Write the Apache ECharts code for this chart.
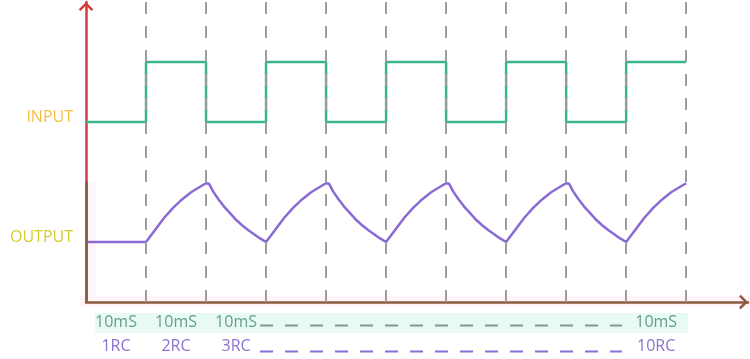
<!DOCTYPE html>
<html>
<head>
<meta charset="utf-8">
<script src="https://cdn.jsdelivr.net/npm/echarts@6/dist/echarts.min.js"></script>
<style>html,body{margin:0;padding:0;background:#fff;}#c{width:750px;height:359px;}</style>
</head>
<body>
<div id="c"></div>
<script>
// ---- data ----
const inputPoints = [[0,3],[1,3],[1,4],[2,4],[2,3],[3,3],[3,4],[4,4],[4,3],[5,3],[5,4],[6,4],[6,3],[7,3],[7,4],[8,4],[8,3],[9,3],[9,4],[10,4]];
const outputPoints = [
  [0,1],[1,1],
  [1.15,1.2],[1.3,1.4],[1.45,1.57],[1.6,1.71],[1.75,1.83],[1.9,1.92],[2,1.98],
  [2.05,1.97],[2.12,1.84],[2.2,1.72],[2.3,1.59],[2.4,1.48],[2.5,1.37],[2.6,1.28],[2.7,1.2],[2.8,1.13],[2.9,1.06],[3,1],
  [3.15,1.2],[3.3,1.4],[3.45,1.57],[3.6,1.71],[3.75,1.83],[3.9,1.92],[4,1.98],
  [4.05,1.97],[4.12,1.84],[4.2,1.72],[4.3,1.59],[4.4,1.48],[4.5,1.37],[4.6,1.28],[4.7,1.2],[4.8,1.13],[4.9,1.06],[5,1],
  [5.15,1.2],[5.3,1.4],[5.45,1.57],[5.6,1.71],[5.75,1.83],[5.9,1.92],[6,1.98],
  [6.05,1.97],[6.12,1.84],[6.2,1.72],[6.3,1.59],[6.4,1.48],[6.5,1.37],[6.6,1.28],[6.7,1.2],[6.8,1.13],[6.9,1.06],[7,1],
  [7.15,1.2],[7.3,1.4],[7.45,1.57],[7.6,1.71],[7.75,1.83],[7.9,1.92],[8,1.98],
  [8.05,1.97],[8.12,1.84],[8.2,1.72],[8.3,1.59],[8.4,1.48],[8.5,1.37],[8.6,1.28],[8.7,1.2],[8.8,1.13],[8.9,1.06],[9,1],
  [9.15,1.2],[9.3,1.4],[9.45,1.57],[9.6,1.71],[9.75,1.83],[9.9,1.92],[10,1.98]
];
const gridLinePositions = [1,2,3,4,5,6,7,8,9,10];
const labelPositions = [0.5,1.5,2.5,9.5];
const timeLabels = ['10mS','10mS','10mS','10mS'];
const rcLabels = ['1RC','2RC','3RC','10RC'];
const yLabelValues = [1,3];
const yLabelTexts = ['OUTPUT','INPUT'];
const ellipsisRange = [2.9, 8.93];

const FONT = 'Open Sans';
const chev = 'path://M7,0 L14,7 L12.3,8.7 L7,3.4 L1.7,8.7 L0,7 Z';

const chart = echarts.init(document.getElementById('c'), null, {renderer:'canvas'});
chart.setOption({
  animation:false,
  backgroundColor:'#ffffff',
  grid:{left:86, top:2, width:662, height:300, containLabel:false},
  xAxis:{
    type:'value', min:0, max:11.03,
    axisLine:{show:true, lineStyle:{color:'#8c5a3c', width:2.5}, symbol:['none', chev], symbolSize:[15,9], symbolOffset:[0,-4.5]},
    axisTick:{show:true, inside:true, length:6, customValues:gridLinePositions, lineStyle:{color:'#8c5a3c', width:1.5}},
    splitLine:{show:false},
    axisLabel:{
      show:true, customValues:labelPositions, margin:8,
      formatter:function(v){ const i = labelPositions.indexOf(v); return i<0 ? '' : '{a|'+timeLabels[i]+'}\n{b|'+rcLabels[i]+'}'; },
      rich:{
        a:{color:'#62a08c', fontSize:16, lineHeight:24, fontFamily:FONT},
        b:{color:'#8c72d3', fontSize:16, lineHeight:24, fontFamily:FONT}
      }
    }
  },
  yAxis:{
    type:'value', min:0, max:5,
    axisLine:{show:true, lineStyle:{color:'#d6393b', width:2.5}, symbol:['none', chev], symbolSize:[15,9], symbolOffset:[0,-4.5]},
    axisTick:{show:false},
    splitLine:{show:false},
    axisLabel:{
      show:true, customValues:yLabelValues, margin:13, padding:[0,0,10,0], fontFamily:FONT, fontSize:16,
      formatter:function(v){ const i = yLabelValues.indexOf(v); return i<0 ? '' : (i===0 ? '{o|' : '{i|') + yLabelTexts[i] + '}'; },
      rich:{
        o:{color:'#d4cd2c', fontSize:16, fontFamily:FONT},
        i:{color:'#f5bf3e', fontSize:16, fontFamily:FONT}
      }
    }
  },
  series:[
    {
      type:'line', data:[], z:1, silent:true,
      markLine:{
        silent:true, symbol:['none','none'], label:{show:false},
        lineStyle:{color:'#9d9d9d', width:2, type:[12,12]},
        data: gridLinePositions.map(v => ({xAxis:v}))
      }
    },
    {
      type:'line', data:[], z:5, silent:true,
      markLine:{
        silent:true, symbol:['none','none'], label:{show:false},
        lineStyle:{color:'#8c5a3c', width:2.5, type:'solid'},
        data:[[{coord:[0,0]},{coord:[0,2]}]]
      }
    },
    {
      name:'INPUT', type:'line', data:inputPoints, showSymbol:false, z:3,
      lineStyle:{color:'#3bb58b', width:2.5}, itemStyle:{color:'#3bb58b'}
    },
    {
      name:'OUTPUT', type:'line', data:outputPoints, showSymbol:false, z:3,
      lineStyle:{color:'#8a6bd5', width:2.5}, itemStyle:{color:'#8a6bd5'}
    }
  ]
});

// decorations positioned through the chart's own scales
const p0 = chart.convertToPixel({gridIndex:0}, [0,0]);
const pa = chart.convertToPixel({gridIndex:0}, [0.15,0]);
const pb = chart.convertToPixel({gridIndex:0}, [10.03,0]);
const pe1 = chart.convertToPixel({gridIndex:0}, [ellipsisRange[0],0]);
const pe2 = chart.convertToPixel({gridIndex:0}, [ellipsisRange[1],0]);
const p2 = chart.convertToPixel({gridIndex:0}, [0,2]);
const yAx = p0[1];
chart.setOption({
  graphic:[
    {type:'rect', z:-1, silent:true, shape:{x:p0[0]-6, y:yAx-6, width:750-(p0[0]-6), height:11}, style:{fill:'#fef5fb'}},
    {type:'rect', z:-1, silent:true, shape:{x:p0[0]+1, y:p2[1], width:9, height:yAx-p2[1]}, style:{fill:'#fef6fb'}},
    {type:'rect', z:-1, silent:true, shape:{x:pa[0], y:yAx+11, width:pb[0]-pa[0], height:20}, style:{fill:'#e9f9f6'}},
    {type:'line', silent:true, shape:{x1:pe1[0], y1:yAx+23.5, x2:pe2[0], y2:yAx+23.5}, style:{stroke:'#7f9c92', lineWidth:2, lineDash:[13,12]}},
    {type:'line', silent:true, shape:{x1:pe1[0], y1:yAx+49.5, x2:pe2[0], y2:yAx+49.5}, style:{stroke:'#8a6fd2', lineWidth:2, lineDash:[13,12]}}
  ]
});
</script>
</body>
</html>
